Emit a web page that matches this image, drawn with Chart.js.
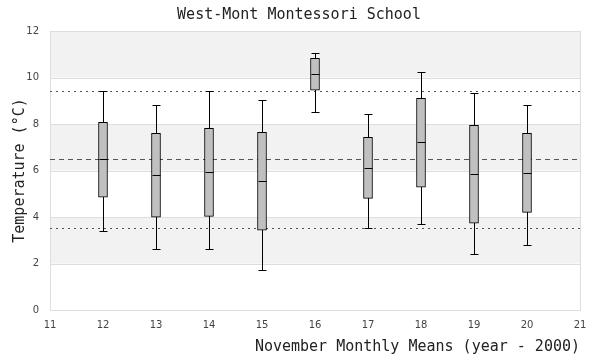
<!DOCTYPE html>
<html>
<head>
<meta charset="utf-8">
<script src="https://cdn.jsdelivr.net/npm/chart.js@4/dist/chart.umd.min.js"></script>
<style>
  html, body { margin: 0; padding: 0; background: #fff; }
  #wrap { width: 600px; height: 360px; }
</style>
</head>
<body>
<div id="wrap"><canvas id="box-chart"></canvas></div>
<script>
// ── Data ──────────────────────────────────────────────────────────────────────
const years    = [12, 13, 14, 15, 16, 17, 18, 19, 20];
const whiskLo  = [3.39, 2.61, 2.61, 1.71, 8.50, 3.51, 3.69, 2.40, 2.78];
const quart1   = [4.85, 3.99, 4.03, 3.43, 9.45, 4.80, 5.28, 3.73, 4.20];
const medians  = [6.48, 5.79, 5.92, 5.53, 10.13, 6.09, 7.21, 5.84, 5.88];
const quart3   = [8.07, 7.60, 7.81, 7.64, 10.82, 7.43, 9.10, 7.94, 7.60];
const whiskHi  = [9.41, 8.80, 9.41, 9.02, 11.04, 8.42, 10.22, 9.32, 8.80];

const meanLine  = 6.51;
const sigmaHigh = 9.41;
const sigmaLow  = 3.51;

const bandRanges = [[2, 4], [6, 8], [10, 12]];

const MONO = "'DejaVu Sans Mono', monospace";
const SANS = "'DejaVu Sans', sans-serif";

// ── Plugins ───────────────────────────────────────────────────────────────────
const bandsPlugin = {
  id: "bands",
  beforeDatasetsDraw(chart) {
    const { ctx, chartArea: a, scales: { y } } = chart;
    ctx.save();
    ctx.fillStyle = "#f2f2f2";
    bandRanges.forEach(([lo, hi]) => {
      const top = y.getPixelForValue(hi);
      const bot = y.getPixelForValue(lo);
      ctx.fillRect(a.left, top, a.right - a.left, bot - top);
    });
    // grid lines on top of the bands
    ctx.strokeStyle = "#dedede";
    ctx.lineWidth = 1;
    for (let v = 0; v <= 12; v += 2) {
      const py = Math.round(y.getPixelForValue(v)) + 0.5;
      ctx.beginPath();
      ctx.moveTo(a.left, py);
      ctx.lineTo(a.right, py);
      ctx.stroke();
    }
    ctx.strokeRect(Math.round(a.left) + 0.5, Math.round(a.top) + 0.5,
                   Math.round(a.right - a.left), Math.round(a.bottom - a.top));

    // mean and +/- sigma lines
    ctx.strokeStyle = "#555";
    const hline = (v, dash) => {
      const py = Math.round(y.getPixelForValue(v)) + 0.5;
      ctx.setLineDash(dash);
      ctx.beginPath();
      ctx.moveTo(a.left, py);
      ctx.lineTo(a.right, py);
      ctx.stroke();
    };
    hline(sigmaHigh, [2, 4]);
    hline(sigmaLow, [2, 4]);
    hline(meanLine, [5, 4]);
    ctx.restore();
  }
};

const whiskerPlugin = {
  id: "whiskers",
  afterDatasetsDraw(chart) {
    const { ctx, scales: { x, y } } = chart;
    const half = 4;
    ctx.save();
    ctx.strokeStyle = "#000";
    ctx.lineWidth = 1;
    years.forEach((yr, i) => {
      const px   = Math.round(x.getPixelForValue(yr)) + 0.5;
      const pHi  = Math.round(y.getPixelForValue(whiskHi[i])) + 0.5;
      const pLo  = Math.round(y.getPixelForValue(whiskLo[i])) + 0.5;
      const pQ3  = Math.round(y.getPixelForValue(quart3[i]));
      const pQ1  = Math.round(y.getPixelForValue(quart1[i]));
      const pMed = Math.round(y.getPixelForValue(medians[i])) + 0.5;
      ctx.beginPath();
      ctx.moveTo(px, pHi); ctx.lineTo(px, pQ3);
      ctx.moveTo(px, pQ1); ctx.lineTo(px, pLo);
      ctx.moveTo(px - half, pHi);  ctx.lineTo(px + half, pHi);
      ctx.moveTo(px - half, pLo);  ctx.lineTo(px + half, pLo);
      ctx.moveTo(px - half, pMed); ctx.lineTo(px + half, pMed);
      ctx.stroke();
    });
    ctx.restore();
  }
};

// ── Chart ─────────────────────────────────────────────────────────────────────
new Chart(document.getElementById("box-chart"), {
  type: "bar",
  data: {
    datasets: [{
      label:           "IQR",
      data:            years.map((yr, i) => ({ x: yr, y: [quart1[i], quart3[i]] })),
      backgroundColor: "#c0c0c0",
      borderColor:     "#000",
      borderWidth:     1,
      borderSkipped:   false,
      barThickness:    9
    }]
  },
  options: {
    responsive:          true,
    maintainAspectRatio: false,
    animation:           false,
    layout: { padding: { top: 2, right: 20, bottom: 4, left: 18 } },
    plugins: {
      legend:  { display: false },
      tooltip: { enabled: false },
      title: {
        display: true,
        text:    "West-Mont Montessori School",
        color:   "#222",
        font:    { family: MONO, size: 15, weight: "normal" },
        padding: { top: 4, bottom: 7 }
      }
    },
    scales: {
      x: {
        type:   "linear",
        min:    11,
        max:    21,
        offset: false,
        grid:   { display: false, drawTicks: false },
        border: { display: false },
        ticks:  { stepSize: 1, color: "#444", font: { family: SANS, size: 10 }, padding: 9 },
        afterFit: s => { s.height = 46; },
        title: {
          display: true,
          text:    "November Monthly Means (year - 2000)",
          align:   "end",
          color:   "#222",
          font:    { family: MONO, size: 15 },
          padding: { top: 0, bottom: 0 }
        }
      },
      y: {
        min:    0,
        max:    12,
        grid:   { display: false, drawTicks: false },
        border: { display: false },
        ticks:  { stepSize: 2, color: "#444", font: { family: SANS, size: 10 }, padding: 11 },
        afterFit: s => { s.width = 32; },
        title: {
          display: true,
          text:    "Temperature (°C)",
          color:   "#222",
          font:    { family: MONO, size: 15 },
          padding: { top: -7, bottom: 0 }
        }
      }
    }
  },
  plugins: [bandsPlugin, whiskerPlugin]
});
</script>
</body>
</html>
